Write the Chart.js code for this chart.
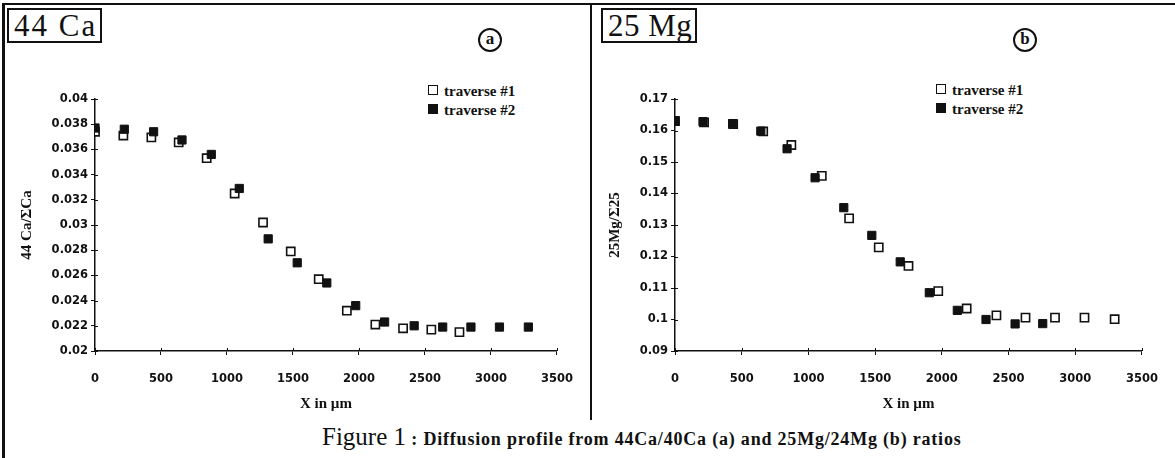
<!DOCTYPE html>
<html>
<head>
<meta charset="utf-8">
<script src="https://cdn.jsdelivr.net/npm/chart.js@4"></script>
<style>
  body { margin: 0; background: #fff; }
  #page { position: relative; width: 1175px; height: 458px; overflow: hidden; font-family: "Liberation Serif", "Times New Roman", serif; color: #111; }
  .frameTop { position: absolute; left: 3px; top: 3px; width: 1172px; height: 2px; background: #111; }
  .frameLeft { position: absolute; left: 2px; top: 3px; width: 3px; height: 455px; background: #111; }
  .divider { position: absolute; left: 590px; top: 3px; width: 2px; height: 417px; background: #111; }
  .tag { position: absolute; top: 8px; height: 31px; border: 2px solid #111; font-size: 31px; line-height: 31px; padding: 0 3px 0 5px; letter-spacing: 2px; }
  .circ { position: absolute; width: 20px; height: 20px; border: 2px solid #111; border-radius: 50%; font-weight: bold; font-size: 17px; line-height: 18px; text-align: center; }
  .leg { position: absolute; font-weight: bold; font-size: 15px; line-height: 19px; }
  .leg .sq { display: inline-block; width: 8px; height: 8px; border: 1.5px solid #111; margin-right: 6px; vertical-align: 1px; }
  .leg .sq.full { background: #111; }
  .holder { position: absolute; top: 0; height: 420px; }
  #caption { position: absolute; left: 322px; top: 423px; white-space: nowrap; }
  #caption .big { font-size: 25px; }
  #caption .small { font-size: 18px; font-weight: bold; letter-spacing: 0.8px; }
</style>
</head>
<body>
<div id="page">
  <div class="frameTop"></div>
  <div class="frameLeft"></div>
  <div class="divider"></div>

  <div class="tag" style="left:7px;">44 Ca</div>
  <div class="tag" style="left:601px; letter-spacing: 0.5px;">25 Mg</div>
  <div class="circ" style="left:478px; top:28px;">a</div>
  <div class="circ" style="left:1013px; top:28px;">b</div>

  <div class="leg" style="left:428px; top:82px;"><span class="sq"></span>traverse #1<br><span class="sq full"></span>traverse #2</div>
  <div class="leg" style="left:936px; top:81px;"><span class="sq"></span>traverse #1<br><span class="sq full"></span>traverse #2</div>

  <div class="holder" style="left:0; width:590px;"><canvas id="chartCa"></canvas></div>
  <div class="holder" style="left:593px; width:582px;"><canvas id="chartMg"></canvas></div>

  <div id="caption"><span class="big">Figure 1</span><span class="small"> : Diffusion profile from 44Ca/40Ca (a) and 25Mg/24Mg (b) ratios</span></div>
</div>

<script>
// 44Ca / sum Ca  (panel a)
const caX1 = [0, 215, 427, 634, 846, 1058, 1273, 1483, 1695, 1908, 2124, 2334, 2548, 2761];
const caY1 = [0.0374, 0.0371, 0.03695, 0.03655, 0.0353, 0.0325, 0.0302, 0.0279, 0.0257, 0.0232, 0.0221, 0.0218, 0.0217, 0.0215];
const caX2 = [0, 222, 444, 659, 881, 1093, 1312, 1532, 1756, 1975, 2194, 2418, 2634, 2848, 3064, 3283];
const caY2 = [0.0377, 0.0376, 0.0374, 0.03675, 0.0356, 0.0329, 0.0289, 0.0270, 0.0254, 0.0236, 0.0223, 0.0220, 0.0219, 0.0219, 0.0219, 0.0219];

// 25Mg / sum 25  (panel b)
const mgX1 = [0, 218, 436, 661, 872, 1100, 1305, 1527, 1750, 1973, 2186, 2409, 2627, 2848, 3069, 3295];
const mgY1 = [0.1630, 0.1626, 0.1620, 0.1597, 0.1554, 0.1456, 0.1321, 0.1229, 0.1170, 0.1090, 0.1035, 0.1013, 0.1006, 0.1006, 0.1006, 0.1001];
const mgX2 = [0, 210, 432, 643, 840, 1050, 1265, 1475, 1688, 1906, 2116, 2331, 2549, 2756];
const mgY2 = [0.1631, 0.1628, 0.1622, 0.1598, 0.1542, 0.1450, 0.1355, 0.1267, 0.1183, 0.1085, 0.1029, 0.1000, 0.0986, 0.0987];

const seriesNames = ["traverse #1", "traverse #2"];
const xTicks = [0, 500, 1000, 1500, 2000, 2500, 3000, 3500];
const caTicks = [0.02, 0.022, 0.024, 0.026, 0.028, 0.03, 0.032, 0.034, 0.036, 0.038, 0.04];
const mgTicks = [0.09, 0.1, 0.11, 0.12, 0.13, 0.14, 0.15, 0.16, 0.17];

const pts = (xs, ys) => xs.map((x, i) => ({x: x, y: ys[i]}));
const tickFont = {family: "DejaVu Sans", weight: "bold", size: 11.5};
const titleFont = {family: "Liberation Serif", weight: "bold", size: 15};

// small tick marks on the inner side of the axes too
const crossTicks = {
  id: 'crossTicks',
  afterDraw(chart) {
    const {ctx, chartArea: a, scales} = chart;
    ctx.save();
    ctx.strokeStyle = '#111';
    ctx.lineWidth = 1;
    ctx.beginPath();
    scales.x.ticks.forEach((t, i) => {
      const px = Math.round(scales.x.getPixelForTick(i)) + 0.5;
      ctx.moveTo(px, a.bottom); ctx.lineTo(px, a.bottom - 3);
    });
    scales.y.ticks.forEach((t, i) => {
      const py = Math.round(scales.y.getPixelForTick(i)) + 0.5;
      ctx.moveTo(a.left, py); ctx.lineTo(a.left + 3, py);
    });
    ctx.stroke();
    ctx.restore();
  }
};

function makeChart(id, x1, y1, x2, y2, yTicks, yTitle, yWidth, padRight, titlePad) {
  new Chart(document.getElementById(id), {
    type: 'scatter',
    data: {
      datasets: [
        {label: seriesNames[0], data: pts(x1, y1), pointStyle: 'rect', pointRadius: 5.8,
         backgroundColor: '#fff', borderColor: '#111', borderWidth: 1.6, order: 2},
        {label: seriesNames[1], data: pts(x2, y2), pointStyle: 'rect', pointRadius: 5.8,
         backgroundColor: '#111', borderColor: '#111', borderWidth: 1, order: 1}
      ]
    },
    options: {
      responsive: true,
      maintainAspectRatio: false,
      animation: false,
      layout: {padding: {left: 0, right: padRight, top: 99, bottom: 7}},
      plugins: {legend: {display: false}, tooltip: {enabled: false}},
      scales: {
        x: {
          type: 'linear', min: 0, max: 3500,
          afterBuildTicks: s => { s.ticks = xTicks.map(v => ({value: v})); },
          afterFit: s => { s.height = 62; },
          grid: {drawOnChartArea: false, drawTicks: true, tickLength: 4, color: '#111'},
          border: {color: '#111', width: 1.5},
          ticks: {color: '#111', font: tickFont, padding: 17, maxRotation: 0, callback: v => String(v)},
          title: {display: true, text: 'X in µm', color: '#111', font: titleFont, padding: {top: 0, bottom: 0}}
        },
        y: {
          type: 'linear', min: yTicks[0], max: yTicks[yTicks.length - 1],
          afterBuildTicks: s => { s.ticks = yTicks.map(v => ({value: v})); },
          afterFit: s => { s.width = yWidth; },
          grid: {drawOnChartArea: false, drawTicks: true, tickLength: 4, color: '#111'},
          border: {color: '#111', width: 1.5},
          ticks: {color: '#111', font: tickFont, padding: 3, callback: v => String(+v.toFixed(3))},
          title: {display: true, text: yTitle, color: '#111', font: titleFont, padding: {top: titlePad, bottom: 0}}
        }
      }
    },
    plugins: [crossTicks]
  });
}

makeChart('chartCa', caX1, caY1, caX2, caY2, caTicks, '44 Ca/ΣCa', 95, 22, 18);
makeChart('chartMg', mgX1, mgY1, mgX2, mgY2, mgTicks, '25Mg/Σ25', 82, 28, 13);
</script>
</body>
</html>
